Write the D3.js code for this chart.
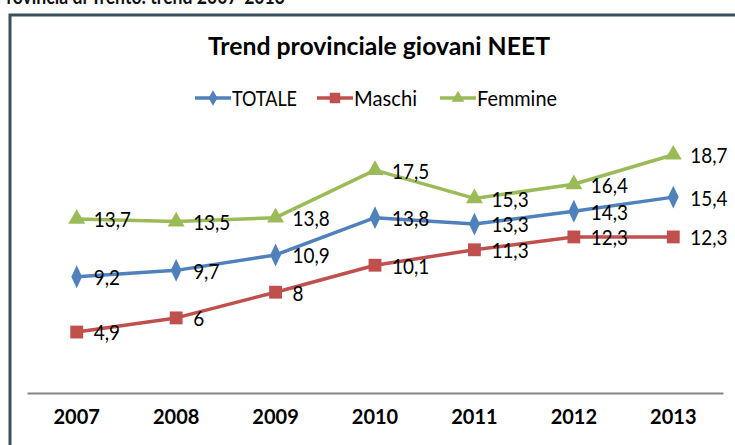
<!DOCTYPE html>
<html>
<head>
<meta charset="utf-8">
<script src="https://cdn.jsdelivr.net/npm/d3@7"></script>
<style>
  body { margin: 0; background: #fff; }
  svg { display: block; font-family: Lato, sans-serif; }
</style>
</head>
<body>
<div id="graf"></div>
<script>
// dati
const anni = ["2007", "2008", "2009", "2010", "2011", "2012", "2013"]
const totale = [9.2, 9.7, 10.9, 13.8, 13.3, 14.3, 15.4]
const maschi = [4.9, 6, 8, 10.1, 11.3, 12.3, 12.3]
const femmine = [13.7, 13.5, 13.8, 17.5, 15.3, 16.4, 18.7]

const serie = [
  { nome: "TOTALE", valori: totale, colore: "#4F81BD", simbolo: d3.symbolDiamond },
  { nome: "Maschi", valori: maschi, colore: "#C0504D", simbolo: d3.symbolSquare },
  { nome: "Femmine", valori: femmine, colore: "#9BBB59", simbolo: d3.symbolTriangle }
]

const W = 735, H = 445
const svg = d3.select("#graf").append("svg")
  .attr("width", W)
  .attr("height", H)

// comprime il testo in larghezza (font stile Calibri)
const stringi = (sel, k) => sel.each(function () {
  const w = this.getComputedTextLength()
  d3.select(this).attr("textLength", w * k).attr("lengthAdjust", "spacingAndGlyphs")
})

// titolo tagliato sopra il riquadro
svg.append("text")
  .attr("x", 285).attr("y", 4)
  .attr("text-anchor", "end")
  .attr("font-size", 20).attr("font-weight", "bold")
  .attr("fill", "#111")
  .text("Provincia di Trento: trend 2007-2013")
  .call(stringi, 0.88)

// cornice
svg.append("path")
  .attr("d", `M10,${H} L10,15 L${W},15`)
  .attr("fill", "none")
  .attr("stroke", "#3B4F5C")
  .attr("stroke-width", 3)

// titolo
svg.append("text")
  .attr("x", 379).attr("y", 55)
  .attr("text-anchor", "middle")
  .attr("font-size", 24).attr("font-weight", "bold")
  .attr("fill", "#000")
  .text("Trend provinciale giovani NEET")
  .attr("textLength", 342).attr("lengthAdjust", "spacingAndGlyphs")

// scale
const x = d3.scaleBand().domain(anni).range([27, 723]).padding(0)
const y = d3.scaleLinear().domain([0, 20]).range([395, 138])
const cx = (a) => x(a) + x.bandwidth() / 2

// asse x
const xAxis = svg.append("g")
  .attr("transform", `translate(0, 393)`)
  .call(d3.axisBottom(x).tickSize(0).tickPadding(27))
xAxis.select(".domain").attr("stroke", "#868686").attr("stroke-width", 2)
xAxis.selectAll("text")
  .attr("font-family", "Lato, sans-serif")
  .attr("font-size", 20).attr("font-weight", "bold")
  .attr("fill", "#000")
  .attr("dy", "0.2em")

// linee
const linea = d3.line()
  .x((d, i) => cx(anni[i]))
  .y((d) => y(d))

const g = svg.append("g")
serie.forEach((s) => {
  g.append("path")
    .datum(s.valori)
    .attr("d", linea)
    .attr("fill", "none")
    .attr("stroke", s.colore)
    .attr("stroke-width", 3.5)
    .attr("stroke-linejoin", "round")

  g.selectAll(null)
    .data(s.valori)
    .join("path")
    .attr("d", d3.symbol().type(s.simbolo).size(s.nome === "Maschi" ? 165 : 125))
    .attr("transform", (d, i) => `translate(${cx(anni[i])}, ${y(d)})` + (s.nome === "TOTALE" ? " scale(0.9,1.1)" : ""))
    .attr("fill", s.colore)
})

// etichette
serie.forEach((s) => {
  g.selectAll(null)
    .data(s.valori)
    .join("text")
    .attr("x", (d, i) => cx(anni[i]) + 17)
    .attr("y", (d) => y(d))
    .attr("dy", "0.4em")
    .attr("font-size", 21)
    .attr("fill", "#000")
    .text((d) => String(d).replace(".", ","))
    .call(stringi, 0.9)
})

// legenda
const legX = [195, 317, 440]
const legW = [65, 63, 80]
const leg = svg.append("g")
  .selectAll("g")
  .data(serie)
  .join("g")
  .attr("transform", (d, i) => `translate(${legX[i]}, 98)`)

leg.append("line")
  .attr("x1", 0).attr("x2", 36)
  .attr("stroke", (d) => d.colore)
  .attr("stroke-width", 3.5)
leg.append("path")
  .attr("d", (d) => d3.symbol().type(d.simbolo).size(d.nome === "Maschi" ? 110 : 70)())
  .attr("transform", "translate(18,0)")
  .attr("fill", (d) => d.colore)
leg.append("text")
  .attr("x", 37)
  .attr("dy", "0.38em")
  .attr("font-size", 22)
  .attr("fill", "#000")
  .text((d) => d.nome)
  .attr("textLength", (d, i) => legW[i])
  .attr("lengthAdjust", "spacingAndGlyphs")
</script>
</body>
</html>
